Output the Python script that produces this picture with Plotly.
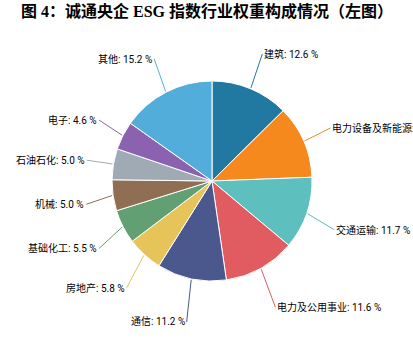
import math
import plotly.graph_objects as go

# ---- data ----
categories = ["建筑", "电力设备及新能源", "交通运输", "电力及公用事业", "通信",
              "房地产", "基础化工", "机械", "石油石化", "电子", "其他"]
weights = [12.6, 11.8, 11.7, 11.6, 11.2, 5.8, 5.5, 5.0, 5.0, 4.6, 15.2]
colors = ["#2178a0", "#f5891e", "#5ebfbf", "#e05c60", "#4a588e",
          "#e6c45a", "#62a073", "#8f6e54", "#a0aab4", "#8a62b0", "#53addb"]
title_text = "图 4：诚通央企 ESG 指数行业权重构成情况（左图）"

# ---- layout geometry (pixels) ----
W, H = 413, 354
CX, CY, R = 212, 181, 100
LCX, LCY = 213, 184
LX, LY = 128, 141

fig = go.Figure(go.Pie(
    values=weights, labels=categories, sort=False, direction="clockwise",
    rotation=0, textinfo="none", hoverinfo="label+percent", showlegend=False,
    marker=dict(colors=colors, line=dict(color="white", width=1)),
    domain=dict(x=[(CX - R) / W, (CX + R) / W],
                y=[(H - CY - R) / H, (H - CY + R) / H]),
))

total = sum(weights)
cum = 0.0
annotations = []
for name, v, c in zip(categories, weights, colors):
    mid = (cum + v / 2) / total * 2 * math.pi
    cum += v
    s, co = math.sin(mid), math.cos(mid)
    tipx, tipy = CX + (R + 1) * s, CY - (R + 1) * co
    lx, ly = LCX + LX * s, LCY - LY * co
    annotations.append(dict(
        x=tipx / W, y=1 - tipy / H, xref="paper", yref="paper",
        ax=lx - tipx, ay=ly - tipy, showarrow=True, arrowhead=0,
        arrowwidth=1, arrowcolor=c, standoff=0,
        text=f"{name}: {v:.1f} %",
        xanchor="left" if s > 0 else "right", yanchor="middle",
        font=dict(family="Roboto, Noto Sans CJK SC", size=10, color="#000000"),
    ))

annotations.append(dict(
    x=19 / W, y=1 - 11 / H, xref="paper", yref="paper", showarrow=False,
    xanchor="left", yanchor="middle", text=f"<b>{title_text}</b>",
    font=dict(family="Liberation Serif, Noto Sans CJK SC", size=16, color="#000000"),
))

fig.update_layout(
    width=W, height=H, margin=dict(l=0, r=0, t=0, b=0),
    paper_bgcolor="white", plot_bgcolor="white",
    annotations=annotations,
)

fig.write_html("out.html", config={"displayModeBar": False})
